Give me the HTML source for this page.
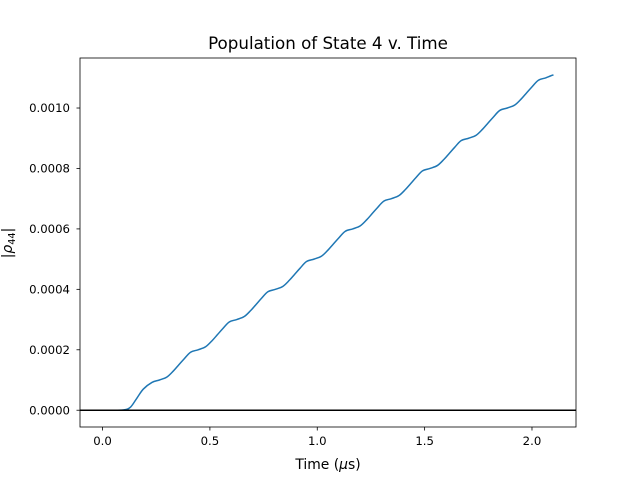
<!DOCTYPE html>
<html><head><meta charset="utf-8"><style>body{margin:0;background:#fff}svg{display:block;font-family:"DejaVu Sans","Liberation Sans",sans-serif}</style></head>
<body>
<svg id="chart" width="640" height="480" viewBox="0 0 640 480" xmlns="http://www.w3.org/2000/svg">
<rect width="640" height="480" fill="#fff"/>
<text x="328" y="49" font-size="16.7" text-anchor="middle">Population of State 4 v. Time</text>
<text x="328" y="469" font-size="13.9" text-anchor="middle">Time (<tspan font-style="italic">μ</tspan>s)</text>
<text transform="translate(12,243) rotate(-90)" font-size="13.9" text-anchor="middle">|<tspan font-style="italic">ρ</tspan><tspan font-size="9.7" dy="3">44</tspan><tspan dy="-3">|</tspan></text>
<g id="plot"></g>
</svg>
<script>
const times=[0,0.05,0.1,0.13,0.16,0.19,
0.23,0.265,0.30,0.33,0.355,0.38,
0.41,0.445,0.48,0.51,0.535,0.56,
0.59,0.625,0.66,0.69,0.715,0.74,
0.77,0.805,0.84,0.87,0.895,0.92,
0.95,0.985,1.02,1.05,1.075,1.1,
1.13,1.165,1.2,1.23,1.255,1.28,
1.31,1.345,1.38,1.41,1.435,1.46,
1.49,1.525,1.56,1.59,1.615,1.64,
1.67,1.705,1.74,1.77,1.795,1.82,
1.85,1.885,1.92,1.95,1.975,2.0,
2.03,2.065,2.1];
const populations=[0,0,0.000001,0.00001,0.00004,0.00007,
0.000092,0.0001,0.00011,0.00013,0.00015,0.00017,
0.000192,0.0002,0.00021,0.00023,0.00025,0.00027,
0.000292,0.0003,0.00031,0.00033,0.00035,0.00037,
0.000392,0.0004,0.00041,0.00043,0.00045,0.00047,
0.000492,0.0005,0.00051,0.00053,0.00055,0.00057,
0.000592,0.0006,0.00061,0.00063,0.00065,0.00067,
0.000692,0.0007,0.00071,0.00073,0.00075,0.00077,
0.000792,0.0008,0.00081,0.00083,0.00085,0.00087,
0.000892,0.0009,0.00091,0.00093,0.00095,0.00097,
0.000992,0.001,0.00101,0.00103,0.00105,0.00107,
0.001092,0.0011,0.00111];
const xTicks=[0,0.5,1,1.5,2];
const xTickLabels=["0.0","0.5","1.0","1.5","2.0"];
const yTicks=[0,0.0002,0.0004,0.0006,0.0008,0.001];
const yTickLabels=["0.0000","0.0002","0.0004","0.0006","0.0008","0.0010"];
const L=80,R=576,T=58,B=427;
const xmin=-0.105,xmax=2.205,ymin=-0.0000555,ymax=0.0011655;
const X=v=>L+(v-xmin)/(xmax-xmin)*(R-L);
const Y=v=>B-(v-ymin)/(ymax-ymin)*(B-T);
const g=document.getElementById('plot');
const NS="http://www.w3.org/2000/svg";
function mk(t,a){const e=document.createElementNS(NS,t);for(const k in a)e.setAttribute(k,a[k]);g.appendChild(e);return e;}
xTicks.forEach((v,i)=>{
 const l=mk('line',{x1:X(v),x2:X(v),y1:B,y2:B+3.5,stroke:'#000','stroke-width':0.8});
 
 
 const t=mk('text',{x:X(v),y:B+18,'font-size':11.7,'text-anchor':'middle'});t.textContent=xTickLabels[i];
 
 
});
yTicks.forEach((v,i)=>{
 const l=mk('line',{x1:L-3.5,x2:L,y1:Y(v),y2:Y(v),stroke:'#000','stroke-width':0.8});
 
 
 const t=mk('text',{x:L-10,y:Y(v)+4.2,'font-size':11.7,'text-anchor':'end'});t.textContent=yTickLabels[i];
 
 
});
const P=times.map((t,i)=>[X(t),Y(populations[i])]);
let d=`M${P[0][0]},${P[0][1]}`;
for(let i=0;i<P.length-1;i++){
 const p0=P[Math.max(0,i-1)],p1=P[i],p2=P[i+1],p3=P[Math.min(P.length-1,i+2)];
 const c1=[p1[0]+(p2[0]-p0[0])/6,p1[1]+(p2[1]-p0[1])/6];
 const c2=[p2[0]-(p3[0]-p1[0])/6,p2[1]-(p3[1]-p1[1])/6];
 d+=` C${c1[0]},${c1[1]} ${c2[0]},${c2[1]} ${p2[0]},${p2[1]}`;
}
const ln=mk('path',{d:d,fill:'none',stroke:'#1f77b4','stroke-width':1.5});


const z=mk('line',{x1:L,x2:R,y1:Y(0),y2:Y(0),stroke:'#000','stroke-width':1.5});


const fr=mk('rect',{x:L,y:T,width:R-L,height:B-T,fill:'none',stroke:'#000','stroke-width':0.8});


</script>
</body></html>
